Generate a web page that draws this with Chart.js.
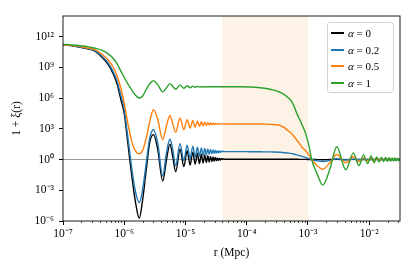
<!DOCTYPE html>
<html>
<head>
<meta charset="utf-8">
<script src="https://cdn.jsdelivr.net/npm/chart.js@4.4.1/dist/chart.umd.min.js"></script>
<style>
    html, body { margin: 0; padding: 0; background: #fff; }
    #wrap { position: relative; width: 416px; height: 272px; }
    #legend {
        position: absolute; left: 327px; top: 22px; width: 67px; height: 71px;
        box-sizing: border-box; border: 1px solid #d4d4d4; border-radius: 3px;
        background: rgba(255,255,255,0.85);
        font: 11px "Liberation Serif", serif; color: #000;
    }
    .row { position: absolute; left: 3px; height: 14px; display: flex; align-items: center; white-space: nowrap; }
    .swatch { width: 13px; height: 2px; margin-right: 4px; }
</style>
</head>
<body>
<div id="wrap">
    <canvas id="chart" width="416" height="272"></canvas>
    <div id="legend"></div>
</div>
<script>
// r in Mpc (shared grid for the four curves)
const R_MPC = [
    1.0e-7, 1.59e-7, 2.31e-7, 3.37e-7, 4.38e-7, 5.48e-7, 6.62e-7, 7.69e-7, 8.94e-7, 1.0e-6,
    1.10e-6, 1.23e-6, 1.35e-6, 1.52e-6, 1.76e-6, 2.0e-6, 2.29e-6, 2.61e-6, 3.0e-6, 3.52e-6,
    4.25e-6, 4.90e-6, 5.57e-6, 6.18e-6, 6.92e-6, 8.15e-6, 9.4e-6, 10.65e-6, 11.9e-6, 13.15e-6,
    14.4e-6, 15.65e-6, 16.9e-6, 18.15e-6, 19.4e-6, 20.65e-6, 21.9e-6, 23.15e-6, 24.4e-6, 25.65e-6,
    26.9e-6, 28.15e-6, 29.4e-6, 30.65e-6, 31.9e-6, 33.15e-6, 34.4e-6, 35.65e-6, 36.9e-6, 38.15e-6,
    4.5e-5, 7.87e-5, 1.13e-4, 1.66e-4, 2.42e-4, 3.52e-4, 5.12e-4, 5.82e-4, 6.57e-4, 8.01e-4,
    9.31e-4, 1.05e-3, 1.15e-3, 1.41e-3, 1.74e-3, 2.29e-3, 2.95e-3, 4.15e-3, 5.51e-3, 6.8e-3,
    8.1e-3, 9.4e-3, 10.7e-3, 12.0e-3, 13.3e-3, 14.6e-3, 15.9e-3, 17.2e-3, 18.5e-3, 19.8e-3,
    21.1e-3, 22.4e-3, 23.7e-3, 25.0e-3, 26.3e-3, 27.6e-3, 28.9e-3, 30.2e-3, 31.5e-3
];

// log10(1 + xi), one list per alpha
const LOG_XI_A0 = [
    11.2, 11.05, 10.85, 10.55, 9.95, 9.25, 8.35, 7.3, 5.7, 4.5,
    2.5, 0.0, -1.94, -4.1, -5.73, -3.9, -0.97, 1.7, 2.43, 1.0,
    -2.1, 0.0, 1.5, 0.3, -1.2, 1.0, -0.7, 0.85, -0.55, 0.72,
    -0.45, 0.62, -0.4, 0.52, -0.34, 0.44, -0.29, 0.36, -0.24, 0.3,
    -0.2, 0.24, -0.16, 0.19, -0.12, 0.14, -0.09, 0.1, -0.06, 0.07,
    0.02, 0.02, 0.02, 0.02, 0.02, 0.02, 0.02, 0.02, 0.02, 0.01,
    0.01, 0.0, 0.0, -0.01, -0.02, 0.0, 0.01, -0.01, 0.01, 0.0,
    0, 0, 0, 0, 0, 0, 0, 0, 0, 0,
    0, 0, 0, 0, 0, 0, 0, 0, 0
];
const LOG_XI_A02 = [
    11.2, 11.05, 10.87, 10.6, 10.05, 9.4, 8.55, 7.6, 6.1, 4.9,
    3.0, 0.7, -1.2, -3.1, -4.2, -2.9, -0.3, 2.1, 2.9, 1.6,
    -1.6, 0.7, 2.0, 1.0, -0.6, 1.55, -0.1, 1.4, 0.1, 1.3,
    0.25, 1.2, 0.33, 1.13, 0.4, 1.07, 0.46, 1.02, 0.51, 0.97,
    0.56, 0.93, 0.6, 0.89, 0.63, 0.86, 0.66, 0.83, 0.69, 0.8,
    0.77, 0.77, 0.76, 0.75, 0.74, 0.71, 0.6, 0.54, 0.45, 0.3,
    0.18, 0.08, 0.0, -0.12, -0.19, -0.08, 0.08, -0.05, 0.04, -0.03,
    0.03, -0.02, 0.02, -0.01, 0.01, -0.01, 0.01, -0.01, 0.01, -0.01,
    0.01, -0.01, 0.01, -0.01, 0.01, -0.01, 0.01, -0.01, 0.01
];
const LOG_XI_A05 = [
    11.2, 11.08, 10.92, 10.7, 10.25, 9.7, 9.0, 8.1, 6.8, 5.5,
    4.1, 2.6, 1.6, 0.85, 0.55, 0.9, 2.1, 3.7, 4.86, 3.9,
    1.94, 3.3, 4.3, 3.5, 2.65, 4.05, 2.9, 3.89, 3.08, 3.8,
    3.15, 3.75, 3.22, 3.7, 3.28, 3.65, 3.33, 3.6, 3.37, 3.56,
    3.4, 3.53, 3.42, 3.51, 3.44, 3.5, 3.45, 3.49, 3.46, 3.48,
    3.47, 3.47, 3.47, 3.46, 3.43, 3.32, 2.65, 2.3, 1.9, 1.2,
    0.8, 0.4, 0.0, -0.6, -0.95, -0.3, 0.49, -0.32, 0.3, -0.2,
    0.16, -0.13, 0.11, -0.09, 0.08, -0.07, 0.06, -0.06, 0.05, -0.05,
    0.05, -0.04, 0.04, -0.04, 0.04, -0.03, 0.03, -0.03, 0.03
];
const LOG_XI_A1 = [
    11.25, 11.15, 11.05, 10.85, 10.65, 10.3, 9.85, 9.3, 8.55, 8.0,
    7.55, 7.1, 6.7, 6.3, 6.0, 6.2, 6.85, 7.4, 7.7, 7.3,
    6.6, 7.0, 7.4, 7.15, 6.85, 7.28, 6.95, 7.2, 7.0, 7.16,
    7.04, 7.14, 7.06, 7.12, 7.07, 7.11, 7.08, 7.1, 7.09, 7.1,
    7.1, 7.1, 7.1, 7.1, 7.1, 7.1, 7.1, 7.1, 7.1, 7.1,
    7.1, 7.1, 7.08, 7.0, 6.85, 6.55, 5.85, 5.3, 4.5, 3.4,
    2.4, 1.2, 0.0, -1.4, -2.5, -0.9, 1.25, -1.0, 0.65, -0.6,
    0.45, -0.4, 0.34, -0.3, 0.26, -0.24, 0.22, -0.2, 0.19, -0.18,
    0.17, -0.16, 0.15, -0.14, 0.14, -0.13, 0.13, -0.12, 0.12
];

const ALPHAS = ['0', '0.2', '0.5', '1'];
const SERIES = [LOG_XI_A0, LOG_XI_A02, LOG_XI_A05, LOG_XI_A1];
const COLORS = ['#000000', '#1f77b4', '#ff7f0e', '#2ca02c'];

const X_RANGE = [1e-7, 3.18e-2];
const Y_RANGE = [1e-6, 1e14];
const X_TICKS = [1e-7, 1e-6, 1e-5, 1e-4, 1e-3, 1e-2];
const Y_TICKS = [1e-6, 1e-3, 1, 1e3, 1e6, 1e9, 1e12];
const BAND = [4e-5, 1e-3];     // shaded r range
const REF_LEVEL = 1;           // 1 + xi = 1

const FONT = 'Liberation Serif';
const SUP = {'-': '⁻', '0': '⁰', '1': '¹', '2': '²', '3': '³', '4': '⁴', '5': '⁵', '6': '⁶', '7': '⁷', '8': '⁸', '9': '⁹'};
const powLabel = v => '10' + String(Math.round(Math.log10(v))).split('').map(c => SUP[c]).join('');

const datasets = SERIES.map((logs, i) => ({
    label: 'α = ' + ALPHAS[i],
    data: R_MPC.map((r, j) => ({ x: r, y: Math.pow(10, logs[j]) })),
    borderColor: COLORS[i],
    borderWidth: 1.4,
    pointRadius: 0,
    cubicInterpolationMode: 'monotone',
    order: 4 - i,
}));
datasets.push({
    label: 'ref',
    data: [{ x: X_RANGE[0], y: REF_LEVEL }, { x: X_RANGE[1], y: REF_LEVEL }],
    borderColor: '#8c8c8c',
    borderWidth: 0.9,
    pointRadius: 0,
    order: 10,
});

const decor = {
    id: 'decor',
    beforeDatasetsDraw(chart) {
        const { ctx, chartArea: a, scales: { x } } = chart;
        const x0 = x.getPixelForValue(BAND[0]);
        const x1 = x.getPixelForValue(BAND[1]);
        ctx.save();
        ctx.fillStyle = 'rgb(252,243,230)';
        ctx.fillRect(x0, a.top, x1 - x0, a.bottom - a.top);
        ctx.restore();
    },
    afterDatasetsDraw(chart) {
        const { ctx, chartArea: a, scales: { x } } = chart;
        ctx.save();
        ctx.strokeStyle = '#1a1a1a';
        ctx.lineWidth = 1;
        ctx.strokeRect(a.left, a.top, a.right - a.left, a.bottom - a.top);
        // minor ticks on x
        ctx.beginPath();
        for (let n = -7; n <= -2; n++) {
            for (let k = 2; k <= 9; k++) {
                const v = k * Math.pow(10, n);
                if (v > X_RANGE[1]) break;
                const px = Math.round(x.getPixelForValue(v)) + 0.5;
                ctx.moveTo(px, a.bottom);
                ctx.lineTo(px, a.bottom + 2);
            }
        }
        ctx.lineWidth = 0.8;
        ctx.stroke();
        ctx.restore();
    }
};

const tickFont = { family: FONT, size: 11.5 };
const titleFont = { family: FONT, size: 11.5 };

new Chart(document.getElementById('chart'), {
    type: 'line',
    data: { datasets },
    options: {
        responsive: false,
        animation: false,
        layout: { padding: { left: 0, top: 16, right: 16, bottom: 0 } },
        scales: {
            x: {
                type: 'logarithmic',
                min: X_RANGE[0], max: X_RANGE[1],
                afterBuildTicks: s => { s.ticks = X_TICKS.map(v => ({ value: v })); },
                afterFit: s => { s.height = 51; },
                ticks: { callback: powLabel, font: tickFont, color: '#000', padding: 2, autoSkip: false, maxRotation: 0 },
                grid: { drawOnChartArea: false, drawTicks: true, tickLength: 4, tickColor: '#000' },
                border: { display: false },
                title: { display: true, text: 'r (Mpc)', font: titleFont, color: '#000', padding: { top: 0, bottom: 12 } },
            },
            y: {
                type: 'logarithmic',
                min: Y_RANGE[0], max: Y_RANGE[1],
                afterBuildTicks: s => { s.ticks = Y_TICKS.map(v => ({ value: v })); },
                afterFit: s => { s.width = 63; },
                ticks: { callback: powLabel, font: tickFont, color: '#000', padding: 5, autoSkip: false },
                grid: { drawOnChartArea: false, drawTicks: true, tickLength: 4, tickColor: '#000' },
                border: { display: false },
                title: { display: true, text: '1 + ξ(r)', font: titleFont, color: '#000', padding: { top: 10, bottom: 0 } },
            }
        },
        plugins: { legend: { display: false }, tooltip: { enabled: false } }
    },
    plugins: [decor]
});

// legend box in the upper right of the axes
const legend = document.getElementById('legend');
ALPHAS.forEach((a, i) => {
    const row = document.createElement('div');
    row.className = 'row';
    row.style.top = (3 + i * 16.7) + 'px';
    row.innerHTML = `<span class="swatch" style="background:${COLORS[i]}"></span><span><i>α</i> = ${a}</span>`;
    legend.appendChild(row);
});
</script>
</body>
</html>
